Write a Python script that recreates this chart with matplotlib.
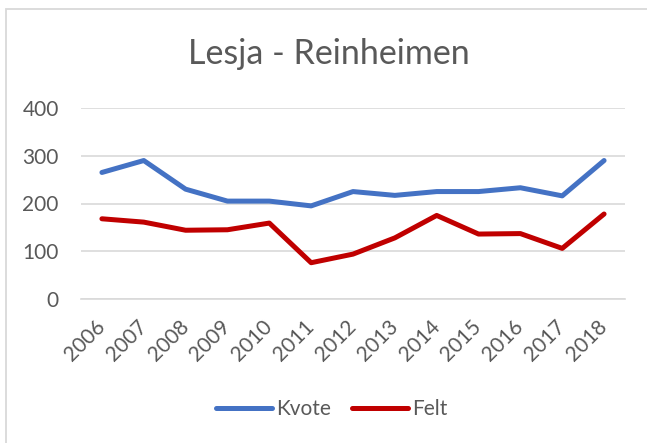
import matplotlib.pyplot as plt
from matplotlib.patches import Rectangle
from matplotlib.transforms import ScaledTranslation

plt.rcParams['font.family'] = ['Lato', 'DejaVu Sans']

# Data
years = ['2006', '2007', '2008', '2009', '2010', '2011', '2012',
         '2013', '2014', '2015', '2016', '2017', '2018']
kvote = [265, 290, 230, 205, 205, 195, 225, 217, 225, 225, 233, 216, 290]
felt = [168, 161, 144, 145, 159, 76, 94, 128, 175, 136, 137, 106, 178]

text_col = '#595959'
grid_col = '#D9D9D9'

W, H = 647, 443
fig = plt.figure(figsize=(W / 100, H / 100), dpi=100)
ax = fig.add_axes([81 / W, 1 - 299 / H, (625 - 81) / W, (299 - 108) / H])

x = range(len(years))
ax.plot(x, kvote, color='#4472C4', lw=3.6, solid_capstyle='round',
        solid_joinstyle='round', label='Kvote')
ax.plot(x, felt, color='#C00000', lw=3.6, solid_capstyle='round',
        solid_joinstyle='round', label='Felt')

ax.set_xlim(-0.5, len(years) - 0.5)
ax.set_ylim(0, 400)
ax.set_yticks([0, 100, 200, 300, 400])
ax.set_xticks(list(x))
ax.set_xticklabels(years, rotation=45, ha='right', va='center',
                   rotation_mode='anchor')
shift = ScaledTranslation(4 / 100, 0, fig.dpi_scale_trans)
for lab in ax.get_xticklabels():
    lab.set_transform(lab.get_transform() + shift)
ax.grid(axis='y', color=grid_col, lw=1.2)
ax.set_axisbelow(True)
for s in ['top', 'right', 'left']:
    ax.spines[s].set_visible(False)
ax.spines['bottom'].set_color(grid_col)
ax.spines['bottom'].set_linewidth(1.2)
ax.tick_params(axis='y', length=0, pad=16, labelsize=15, labelcolor=text_col)
ax.tick_params(axis='x', length=0, pad=17.5, labelsize=15, labelcolor=text_col)

fig.text(329 / W, 1 - 54 / H, 'Lesja - Reinheimen', ha='center', va='center',
         fontsize=24.5, color=text_col)

fig.legend(loc='center', bbox_to_anchor=(332 / W, 1 - 409 / H), ncol=2,
           frameon=False, fontsize=15, handlelength=2.7, handletextpad=0.2,
           columnspacing=1.0, labelcolor=text_col)

# chart border
fig.add_artist(Rectangle((6 / W, -0.1), 1.2, 1.1 - 9 / H, transform=fig.transFigure,
                         fill=False, edgecolor=grid_col, lw=1.3))

fig.savefig('out.png', dpi=100)
